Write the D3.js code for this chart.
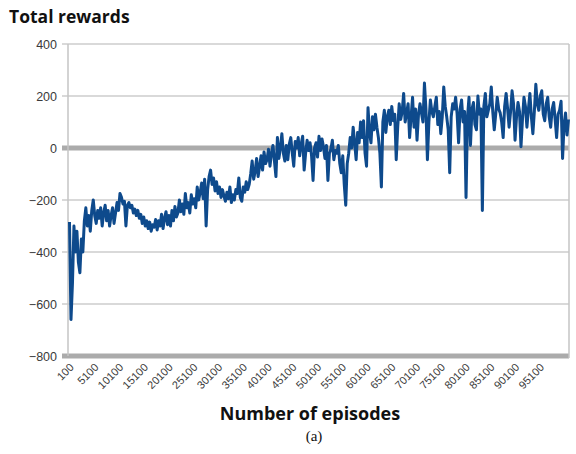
<!DOCTYPE html>
<html>
<head>
<meta charset="utf-8">
<script src="https://cdn.jsdelivr.net/npm/d3@7"></script>
<style>
  html, body { margin: 0; padding: 0; background: #fff; }
  svg { display: block; }
</style>
</head>
<body>
<svg id="chart" width="576" height="454"></svg>
<script>
// ---- data ----
const episodeStart = 100;
const episodeStep = 300;
const rewards = [
  -285, -660, -520, -300, -400, -320, -440, -480, -350, -400, -280, -230, -300, -260, -320, -240, -200, -260, -290, -240,
  -270, -230, -300, -250, -220, -280, -240, -300, -260, -230, -290, -250, -210, -240, -175, -190, -215, -205, -300, -220,
  -210, -230, -220, -250, -235, -260, -240, -270, -255, -290, -265, -300, -280, -310, -285, -320, -295, -305, -275, -315,
  -280, -300, -255, -310, -270, -245, -295, -260, -300, -240, -280, -225, -265, -250, -200, -245, -215, -255, -175, -230,
  -210, -250, -180, -215, -195, -230, -150, -200, -170, -135, -195, -120, -300, -160, -110, -85, -140, -115, -165, -130,
  -175, -150, -190, -160, -185, -205, -170, -195, -150, -210, -180, -200, -160, -175, -115, -190, -205, -150, -170, -130,
  -160, -140, -100, -50, -120, -90, -40, -110, -70, -30, -85, -15, -60, -45, -5, -70, -20, 10, -50, -110,
  40, -40, 0, 55, -20, -50, 10, -45, 15, 40, -20, -70, 25, 0, 40, -30, 15, 45, -85, -20,
  30, -10, 20, -30, -125, 0, 20, -35, 45, -10, 35, 5, -40, 10, -125, -20, -5, 30, -45, -10,
  -20, 10, -60, -95, -30, -140, -220, -60, -20, 40, 0, 80, 20, -45, 60, 20, 100, 40, 105, -20,
  -70, 155, 60, 20, 120, 70, 130, 80, 40, -20, -150, 100, 145, 60, 120, 145, 90, 160, 105, 130,
  -45, 80, 170, 110, 140, 210, 100, 135, 170, 40, 120, 195, 80, 150, 30, 130, 170, 135, 100, 250,
  150, -45, 100, 185, 140, 120, 160, 195, 90, 140, 55, 120, 235, 160, 120, 70, -95, 120, 170, 150,
  195, 130, 20, 150, 185, 100, 140, -190, 120, 195, 10, 150, 175, 90, 70, 200, 130, 150, -240, 160,
  210, 120, 145, 170, 235, 140, 70, 130, 195, 150, 135, 100, 40, 160, 210, 150, 80, 140, 220, 170,
  30, 120, 175, 140, 5, 110, 195, 160, 80, 150, 210, 120, 55, 140, 245, 170, 145, 200, 220, 130,
  105, 170, 195, 120, 80, 150, 175, 110, 40, 130, 145, 180, -40, 90, 135, 50, 110
];
const episodes = rewards.map((_, i) => episodeStart + episodeStep * i);
const xTickValues = [100, 5100, 10100, 15100, 20100, 25100, 30100, 35100, 40100, 45100,
  50100, 55100, 60100, 65100, 70100, 75100, 80100, 85100, 90100, 95100];
const yTickValues = [400, 200, 0, -200, -400, -600, -800];
const titleText = "Total rewards";
const xAxisTitle = "Number of episodes";
const captionText = "(a)";

// ---- layout ----
const svg = d3.select("#chart");
const plot = { left: 68, right: 569, top: 44, bottom: 356 };

const x = d3.scaleLinear().domain([0, 101000]).range([69, 569]);
const y = d3.scaleLinear().domain([-800, 400]).range([plot.bottom, plot.top]);

// gridlines
const grid = svg.append("g");
yTickValues.forEach(v => {
  const thick = (v === 0 || v === -800);
  grid.append("line")
    .attr("x1", plot.left - 6).attr("x2", plot.right)
    .attr("y1", y(v)).attr("y2", y(v))
    .attr("stroke", thick ? "#ababab" : "#cccccc")
    .attr("stroke-width", thick ? 5 : 1.5);
});
// left axis line
svg.append("line")
  .attr("x1", plot.left).attr("x2", plot.left)
  .attr("y1", plot.top).attr("y2", plot.bottom)
  .attr("stroke", "#c4c4c4").attr("stroke-width", 1.5);
// right border
svg.append("line")
  .attr("x1", plot.right).attr("x2", plot.right)
  .attr("y1", plot.top).attr("y2", plot.bottom + 2)
  .attr("stroke", "#c4c4c4").attr("stroke-width", 1.5);

// y axis labels
const yAxis = d3.axisLeft(y).tickValues(yTickValues).tickSize(0).tickPadding(11);
const yg = svg.append("g").attr("transform", `translate(${plot.left},0)`).call(yAxis);
yg.select(".domain").remove();
yg.selectAll("text")
  .attr("font-family", "Liberation Sans, Arial, sans-serif")
  .attr("font-size", 12.5)
  .attr("fill", "#3a3a3a");

// x axis labels (rotated -45deg)
const c = Math.SQRT1_2;
const xg = svg.append("g").attr("class", "x-labels");
const xl = xg.selectAll("g")
  .data(xTickValues)
  .join("g")
  .attr("transform", d => `matrix(${c},${-c},${c},${c},${x(d) + 5},${plot.bottom + 12})`);
xl.append("text")
  .attr("x", 0).attr("y", 0)
  .attr("text-anchor", "end")
  .attr("font-family", "Liberation Sans, Arial, sans-serif")
  .attr("font-size", 11)
  .attr("fill", "#3a3a3a")
  .text(d => d3.format("d")(d));

// data line
const line = d3.line()
  .x((d, i) => x(episodes[i]))
  .y(d => y(d));
svg.append("path")
  .datum(rewards)
  .attr("d", line)
  .attr("fill", "none")
  .attr("stroke", "#0e4a8c")
  .attr("stroke-width", 3)
  .attr("stroke-linejoin", "round");

// titles
svg.append("text")
  .attr("x", 9).attr("y", 23)
  .attr("font-family", "Open Sans, sans-serif")
  .attr("font-weight", "bold")
  .attr("font-size", 17.5)
  .attr("fill", "#111")
  .text(titleText);

svg.append("text")
  .attr("x", 310).attr("y", 420)
  .attr("text-anchor", "middle")
  .attr("font-family", "Open Sans, sans-serif")
  .attr("font-weight", "bold")
  .attr("font-size", 18)
  .attr("fill", "#111")
  .text(xAxisTitle);

svg.append("text")
  .attr("x", 314).attr("y", 441)
  .attr("text-anchor", "middle")
  .attr("font-family", "Liberation Serif, Times New Roman, serif")
  .attr("font-size", 15)
  .attr("fill", "#111")
  .text(captionText);
</script>
</body>
</html>
